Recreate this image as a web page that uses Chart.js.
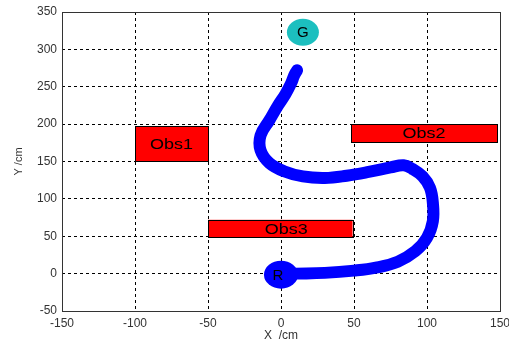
<!DOCTYPE html>
<html>
<head>
<meta charset="utf-8">
<script src="https://cdn.jsdelivr.net/npm/chart.js@4/dist/chart.umd.min.js"></script>
<style>
html,body{margin:0;padding:0;background:#fff;}
#wrap{width:509px;height:343px;position:relative;}
</style>
</head>
<body>
<div id="wrap"><canvas id="c" width="509" height="343"></canvas></div>
<script>
// Robot path (x, y in cm)
const pathX = [10, 30, 50, 65, 80, 92, 100, 104, 104, 102, 97, 90, 84, 75, 60, 45, 30, 15, 2, -8, -14, -14, -8, -2, 3, 7, 9, 11];
const pathY = [0, 1, 4, 8, 16, 30, 48, 70, 95, 115, 130, 140, 145, 142, 136, 131, 128, 130, 137, 148, 165, 185, 205, 225, 240, 255, 265, 272];

// Obstacles
const obsNames = ['Obs1', 'Obs2', 'Obs3'];
const obsX1 = [-100, 48, -50];
const obsX2 = [-50, 148, 49];
const obsY1 = [150, 176, 49];
const obsY2 = [197, 200, 72];

// Markers (goal, robot)
const markNames = ['G', 'R'];
const markX = [15, 0];
const markY = [323, 0];

const xTicks = [-150, -100, -50, 0, 50, 100, 150];
const yTicks = [-50, 0, 50, 100, 150, 200, 250, 300, 350];

const pathData = pathX.map((x, i) => ({x: x, y: pathY[i]}));

const FONT = '"Liberation Sans", Arial, sans-serif';

const overlay = {
  id: 'overlay',
  beforeDatasetsDraw(chart) {
    const ctx = chart.ctx, xs = chart.scales.x, ys = chart.scales.y;
    ctx.save();
    for (let i = 0; i < obsNames.length; i++) {
      const l = xs.getPixelForValue(obsX1[i]), r = xs.getPixelForValue(obsX2[i]);
      const t = ys.getPixelForValue(obsY2[i]), b = ys.getPixelForValue(obsY1[i]);
      ctx.fillStyle = '#ff0000';
      ctx.fillRect(l, t, r - l, b - t);
      ctx.strokeStyle = '#000';
      ctx.lineWidth = 1;
      ctx.strokeRect(Math.round(l) + 0.5, Math.round(t) + 0.5, Math.round(r - l), Math.round(b - t));
      ctx.save();
      ctx.translate((l + r) / 2 + (i === 2 ? 6 : 0), (t + b) / 2 + 1);
      ctx.scale(1.2, 1);
      ctx.fillStyle = '#000';
      ctx.font = '15px ' + FONT;
      ctx.textAlign = 'center';
      ctx.textBaseline = 'middle';
      ctx.fillText(obsNames[i], 0, 0);
      ctx.restore();
    }
    // goal ellipse
    const gx = xs.getPixelForValue(markX[0]), gy = ys.getPixelForValue(markY[0]);
    ctx.fillStyle = '#1cbfbf';
    ctx.beginPath();
    ctx.ellipse(gx, gy, 16, 13.5, 0, 0, Math.PI * 2);
    ctx.fill();
    ctx.restore();
  },
  afterDatasetsDraw(chart) {
    const ctx = chart.ctx, xs = chart.scales.x, ys = chart.scales.y;
    ctx.save();
    const rx = xs.getPixelForValue(markX[1]), ry = ys.getPixelForValue(markY[1]);
    ctx.fillStyle = '#0000ff';
    ctx.beginPath();
    ctx.ellipse(rx, ry + 1, 17, 14, 0, 0, Math.PI * 2);
    ctx.fill();
    ctx.fillStyle = '#000';
    ctx.font = '15px ' + FONT;
    ctx.textAlign = 'center';
    ctx.textBaseline = 'middle';
    ctx.fillText(markNames[1], rx - 3, ry + 2);
    const gx = xs.getPixelForValue(markX[0]), gy = ys.getPixelForValue(markY[0]);
    ctx.fillText(markNames[0], gx, gy + 1);
    // box
    const a = chart.chartArea;
    ctx.strokeStyle = '#333';
    ctx.lineWidth = 1;
    ctx.strokeRect(Math.round(a.left) + 0.5, Math.round(a.top) + 0.5, Math.round(a.right - a.left), Math.round(a.bottom - a.top));
    ctx.restore();
  }
};

new Chart(document.getElementById('c'), {
  type: 'scatter',
  plugins: [overlay],
  data: {
    datasets: [{
      data: pathData,
      showLine: true,
      borderColor: '#0000ff',
      backgroundColor: '#0000ff',
      borderWidth: 12,
      borderCapStyle: 'round',
      borderJoinStyle: 'round',
      tension: 0.4,
      pointRadius: 0
    }]
  },
  options: {
    responsive: false,
    animation: false,
    events: [],
    layout: {padding: {top: 12, right: 9, left: 0, bottom: 0}},
    plugins: {legend: {display: false}, tooltip: {enabled: false}},
    scales: {
      x: {
        type: 'linear', min: -150, max: 150,
        afterBuildTicks: s => { s.ticks = xTicks.map(v => ({value: v})); },
        afterFit: s => { s.height = 32; s.paddingRight = 0; s.paddingLeft = 0; },
        grid: {color: '#000', lineWidth: 1, drawTicks: false},
        border: {display: false, dash: [3, 3]},
        ticks: {color: '#333', font: {family: FONT, size: 12}, padding: 5, maxRotation: 0},
        title: {display: true, text: 'X  /cm', color: '#333', font: {family: FONT, size: 12}, padding: {top: 0, bottom: 0}}
      },
      y: {
        type: 'linear', min: -50, max: 350,
        afterBuildTicks: s => { s.ticks = yTicks.map(v => ({value: v})); },
        afterFit: s => { s.width = 62; s.paddingTop = 0; s.paddingBottom = 0; },
        grid: {color: '#000', lineWidth: 1, drawTicks: false},
        border: {display: false, dash: [3, 3]},
        ticks: {color: '#333', font: {family: FONT, size: 12}, padding: 5},
        title: {display: true, text: 'Y /cm', color: '#333', font: {family: FONT, size: 11}, padding: {top: 12, bottom: 0}}
      }
    }
  }
});
</script>
</body>
</html>
